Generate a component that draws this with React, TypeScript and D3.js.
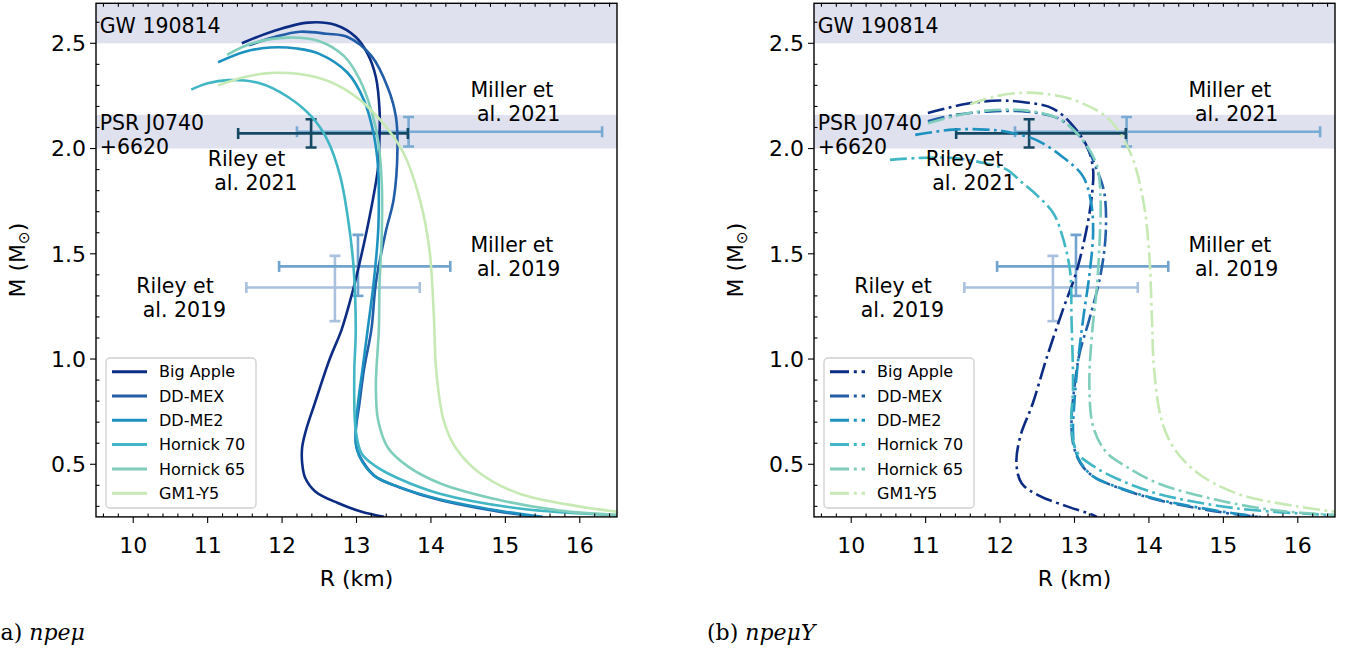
import { useEffect, useRef } from 'react';
import * as d3 from 'd3';

type Pt = [number, number];

// mass-radius curves, [R (km), M (Msun)]
const eosNames = ['Big Apple', 'DD-MEX', 'DD-ME2', 'Hornick 70', 'Hornick 65', 'GM1-Y5'];
const eosColors = ['#0c2c84', '#225ea8', '#1d91c0', '#41b6c4', '#7fcdbb', '#c7e9b4'];

// (a) npe mu
const bigAppleN: Pt[] = [[11.46, 2.5], [11.86, 2.555], [12.35, 2.598], [12.72, 2.587], [12.99, 2.53], [13.15, 2.45], [13.26, 2.34], [13.31, 2.18], [13.31, 2.07], [13.29, 1.91], [13.2, 1.72], [13.07, 1.5], [12.94, 1.31], [12.8, 1.14], [12.64, 1.0], [12.44, 0.79], [12.32, 0.66], [12.27, 0.58], [12.27, 0.506], [12.31, 0.436], [12.45, 0.37], [12.75, 0.316], [13.07, 0.274], [13.37, 0.25]];
const ddmexN: Pt[] = [[11.55, 2.49], [11.9, 2.53], [12.24, 2.555], [12.6, 2.545], [12.88, 2.53], [13.2, 2.44], [13.42, 2.29], [13.53, 2.15], [13.55, 1.99], [13.5, 1.76], [13.39, 1.6], [13.26, 1.36], [13.2, 1.14], [13.1, 0.95], [13.04, 0.79], [12.99, 0.66], [13.0, 0.58], [13.1, 0.505], [13.26, 0.44], [13.58, 0.39], [14.12, 0.33], [14.92, 0.275], [15.46, 0.25]];
const ddme2N: Pt[] = [[11.14, 2.41], [11.5, 2.46], [11.84, 2.48], [12.2, 2.475], [12.5, 2.45], [12.88, 2.36], [13.1, 2.23], [13.23, 2.07], [13.29, 1.91], [13.3, 1.75], [13.29, 1.6], [13.23, 1.36], [13.15, 1.14], [13.08, 0.95], [13.02, 0.79], [12.99, 0.66], [13.0, 0.58], [13.08, 0.51], [13.24, 0.445], [13.55, 0.395], [14.1, 0.335], [14.9, 0.28], [15.5, 0.25]];
const hornick70N: Pt[] = [[10.78, 2.28], [11.0, 2.31], [11.27, 2.325], [11.7, 2.31], [12.08, 2.245], [12.4, 2.15], [12.61, 2.04], [12.78, 1.87], [12.88, 1.68], [12.96, 1.44], [12.99, 1.14], [12.97, 0.93], [12.99, 0.66], [13.07, 0.55], [13.26, 0.49], [13.58, 0.43], [14.12, 0.36], [15.19, 0.29], [16.5, 0.258]];
const hornick65N: Pt[] = [[11.26, 2.445], [11.6, 2.5], [12.08, 2.527], [12.5, 2.51], [12.83, 2.44], [13.04, 2.33], [13.2, 2.18], [13.29, 2.04], [13.34, 1.83], [13.34, 1.6], [13.31, 1.36], [13.3, 1.14], [13.26, 0.87], [13.29, 0.71], [13.42, 0.58], [13.69, 0.49], [14.12, 0.41], [14.92, 0.33], [15.73, 0.28], [16.5, 0.26]];
const gm1y5N: Pt[] = [[11.14, 2.3], [11.5, 2.34], [11.92, 2.36], [12.5, 2.335], [12.94, 2.26], [13.31, 2.14], [13.63, 1.98], [13.85, 1.76], [13.98, 1.52], [14.04, 1.2], [14.07, 0.95], [14.17, 0.71], [14.33, 0.58], [14.65, 0.46], [15.19, 0.36], [15.99, 0.3], [16.5, 0.275]];

// (b) npe mu Y
const bigAppleY: Pt[] = [[11.03, 2.169], [11.59, 2.215], [12.0, 2.228], [12.27, 2.222], [12.71, 2.19], [13.0, 2.1], [13.18, 2.0], [13.25, 1.9], [13.24, 1.8], [13.18, 1.65], [13.03, 1.42], [12.84, 1.23], [12.63, 1.01], [12.44, 0.79], [12.27, 0.63], [12.22, 0.505], [12.29, 0.41], [12.53, 0.35], [12.9, 0.3], [13.2, 0.265], [13.3, 0.25]];
const ddmexY: Pt[] = [[11.03, 2.13], [11.4, 2.16], [11.82, 2.175], [12.36, 2.175], [12.8, 2.14], [13.11, 2.04], [13.3, 1.9], [13.4, 1.79], [13.42, 1.6], [13.35, 1.4], [13.2, 1.19], [13.07, 1.03], [13.0, 0.87], [12.96, 0.71], [12.98, 0.6], [13.08, 0.505], [13.26, 0.44], [13.58, 0.39], [14.12, 0.33], [14.92, 0.275], [15.46, 0.25]];
const ddme2Y: Pt[] = [[10.86, 2.065], [11.37, 2.09], [11.8, 2.09], [12.09, 2.08], [12.49, 2.04], [12.84, 1.96], [13.11, 1.87], [13.22, 1.75], [13.25, 1.6], [13.2, 1.4], [13.12, 1.2], [13.05, 1.0], [13.0, 0.8], [12.98, 0.66], [13.0, 0.58], [13.08, 0.51], [13.24, 0.445], [13.55, 0.395], [14.1, 0.335], [14.9, 0.28], [15.5, 0.25]];
const hornick70Y: Pt[] = [[10.52, 1.946], [10.9, 1.955], [11.37, 1.955], [11.8, 1.93], [12.09, 1.9], [12.29, 1.84], [12.49, 1.78], [12.72, 1.69], [12.84, 1.58], [12.94, 1.42], [12.96, 1.19], [12.98, 0.87], [12.96, 0.66], [13.05, 0.55], [13.26, 0.49], [13.58, 0.43], [14.12, 0.36], [15.19, 0.29], [16.5, 0.258]];
const hornick65Y: Pt[] = [[11.03, 2.12], [11.4, 2.155], [11.82, 2.18], [12.36, 2.18], [12.8, 2.14], [13.11, 2.04], [13.3, 1.92], [13.35, 1.76], [13.34, 1.58], [13.3, 1.34], [13.23, 1.1], [13.2, 0.87], [13.25, 0.68], [13.42, 0.56], [13.69, 0.49], [14.12, 0.41], [14.92, 0.33], [15.73, 0.28], [16.5, 0.26]];
const gm1y5Y: Pt[] = [[11.6, 2.21], [11.9, 2.245], [12.3, 2.265], [12.6, 2.26], [13.0, 2.23], [13.46, 2.14], [13.75, 1.98], [13.92, 1.76], [14.0, 1.52], [14.04, 1.2], [14.07, 0.95], [14.17, 0.71], [14.33, 0.58], [14.65, 0.46], [15.19, 0.36], [15.99, 0.3], [16.5, 0.275]];

const npemuCurves = [bigAppleN, ddmexN, ddme2N, hornick70N, hornick65N, gm1y5N];
const npemuYCurves = [bigAppleY, ddmexY, ddme2Y, hornick70Y, hornick65Y, gm1y5Y];

// NICER measurements (drawn in this order)
const obsR = [12.71, 13.02, 13.7, 12.39];
const obsRlo = [1.19, 1.06, 1.5, 0.98];
const obsRhi = [1.14, 1.24, 2.6, 1.3];
const obsM = [1.34, 1.44, 2.08, 2.072];
const obsMlo = [0.16, 0.14, 0.07, 0.067];
const obsMhi = [0.15, 0.15, 0.07, 0.067];
const obsColors = ['#a9c1de', '#70a3cd', '#78aad2', '#154862'];

// shaded mass bands: GW 190814, PSR J0740+6620
const bandLo = [2.5, 2.0];
const bandHi = [2.75, 2.16];

// annotation text, anchored at (R, M) of the first baseline
const annLines = [['GW 190814'], ['PSR J0740', '+6620'], ['Riley et', ' al. 2021'], ['Miller et', ' al. 2021'], ['Miller et', ' al. 2019'], ['Riley et', ' al. 2019']];
const annR = [9.55, 9.55, 11.0, 14.53, 14.53, 10.04];
const annM = [2.549, 2.088, 1.917, 2.246, 1.509, 1.315];

const xTicks = [10, 11, 12, 13, 14, 15, 16];
const yTicks = [0.5, 1.0, 1.5, 2.0, 2.5];

const W = 1353;
const H = 653;
const TOP = 3.3;
const BOTTOM = 516.9;
const FONT = "'DejaVu Sans', sans-serif";

const panels = [
  { left: 96, right: 617, curves: npemuCurves, dash: null, cap: '(a) ', capMath: 'npeμ', capX: -8 },
  { left: 814, right: 1335, curves: npemuYCurves, dash: '17,4.5,2.8,4.5', cap: '(b) ', capMath: 'npeμY', capX: 707 },
];

const App = () => {
  const svgRef = useRef<SVGSVGElement>(null);

  useEffect(() => {
    const svg = d3.select(svgRef.current);
    svg.selectAll('*').remove();

    panels.forEach((p, pi) => {
      const x = d3.scaleLinear().domain([9.5, 16.5]).range([p.left, p.right]);
      const y = d3.scaleLinear().domain([0.25, 2.69]).range([BOTTOM, TOP]);
      const g = svg.append('g');

      const clipId = `clip-${pi}`;
      svg.append('defs').append('clipPath').attr('id', clipId)
        .append('rect')
        .attr('x', p.left).attr('y', TOP)
        .attr('width', p.right - p.left).attr('height', BOTTOM - TOP);

      const plot = g.append('g').attr('clip-path', `url(#${clipId})`);

      // bands
      bandLo.forEach((lo, k) => {
        plot.append('rect')
          .attr('x', p.left).attr('width', p.right - p.left)
          .attr('y', y(bandHi[k])).attr('height', y(lo) - y(bandHi[k]))
          .attr('fill', '#dfe1ef');
      });

      // error bars
      obsR.forEach((r, k) => {
        const eb = plot.append('g').attr('stroke', obsColors[k]).attr('stroke-width', 2.6).attr('fill', 'none');
        const x0 = x(r - obsRlo[k]);
        const x1 = x(r + obsRhi[k]);
        const y0 = y(obsM[k] - obsMlo[k]);
        const y1 = y(obsM[k] + obsMhi[k]);
        const cy = y(obsM[k]);
        const cx = x(r);
        eb.append('line').attr('x1', x0).attr('x2', x1).attr('y1', cy).attr('y2', cy);
        eb.append('line').attr('x1', cx).attr('x2', cx).attr('y1', y0).attr('y2', y1);
        [x0, x1].forEach(xx => eb.append('line').attr('x1', xx).attr('x2', xx).attr('y1', cy - 5.5).attr('y2', cy + 5.5));
        [y0, y1].forEach(yy => eb.append('line').attr('x1', cx - 5.5).attr('x2', cx + 5.5).attr('y1', yy).attr('y2', yy));
      });

      // curves
      const line = d3.line<Pt>()
        .x(d => x(d[0]))
        .y(d => y(d[1]))
        .curve(d3.curveCatmullRom.alpha(0.5));

      p.curves.forEach((c, k) => {
        plot.append('path')
          .attr('d', line(c))
          .attr('fill', 'none')
          .attr('stroke', eosColors[k])
          .attr('stroke-width', 2.6)
          .attr('stroke-dasharray', p.dash)
          .attr('stroke-linejoin', 'round');
      });

      // annotations
      annLines.forEach((lines, k) => {
        const t = g.append('text')
          .attr('font-family', FONT)
          .attr('font-size', 20.5)
          .attr('fill', '#000')
          .style('white-space', 'pre');
        lines.forEach((ln, j) => {
          t.append('tspan')
            .attr('x', x(annR[k]))
            .attr('y', y(annM[k]) + j * 24)
            .text(ln);
        });
      });

      // legend
      const lx = p.left + 10;
      const leg = g.append('g');
      leg.append('rect')
        .attr('x', lx).attr('y', 358)
        .attr('width', 150).attr('height', 150)
        .attr('rx', 4)
        .attr('fill', 'white').attr('fill-opacity', 0.85)
        .attr('stroke', '#cfcfcf').attr('stroke-width', 1.3);
      eosNames.forEach((name, k) => {
        const ly = 371.7 + k * 24.3;
        leg.append('line')
          .attr('x1', lx + 6).attr('x2', lx + 41)
          .attr('y1', ly).attr('y2', ly)
          .attr('stroke', eosColors[k]).attr('stroke-width', 3)
          .attr('stroke-dasharray', p.dash ? '19,4.8,3,4.8' : null);
        leg.append('text')
          .attr('x', lx + 53).attr('y', ly)
          .attr('dy', '0.36em')
          .attr('font-family', FONT).attr('font-size', 16)
          .text(name);
      });

      // frame
      g.append('rect')
        .attr('x', p.left).attr('y', TOP)
        .attr('width', p.right - p.left).attr('height', BOTTOM - TOP)
        .attr('fill', 'none').attr('stroke', '#000').attr('stroke-width', 1.4);

      const ax = g.append('g').attr('stroke', '#000').attr('stroke-width', 1.1);

      // x ticks
      xTicks.forEach(t => {
        ax.append('line').attr('x1', x(t)).attr('x2', x(t)).attr('y1', BOTTOM).attr('y2', BOTTOM + 6);
      });
      d3.range(48, 83).map(v => v / 5).forEach(t => {
        if (Math.abs(t - Math.round(t)) > 1e-6) {
          ax.append('line').attr('x1', x(t)).attr('x2', x(t)).attr('y1', BOTTOM).attr('y2', BOTTOM - 3.5);
        }
        ax.append('line').attr('x1', x(t)).attr('x2', x(t)).attr('y1', TOP).attr('y2', TOP + 3.5);
      });
      xTicks.forEach(t => {
        g.append('text')
          .attr('x', x(t)).attr('y', 553)
          .attr('text-anchor', 'middle')
          .attr('font-family', FONT).attr('font-size', 22)
          .text(t);
      });

      // y ticks
      yTicks.forEach(t => {
        ax.append('line').attr('x1', p.left - 6).attr('x2', p.left).attr('y1', y(t)).attr('y2', y(t));
        g.append('text')
          .attr('x', p.left - 10).attr('y', y(t))
          .attr('dy', '0.36em')
          .attr('text-anchor', 'end')
          .attr('font-family', FONT).attr('font-size', 22)
          .text(d3.format('.1f')(t));
      });
      d3.range(3, 27).map(v => v / 10).forEach(t => {
        if (Math.abs(t * 2 - Math.round(t * 2)) > 1e-6) {
          ax.append('line').attr('x1', p.left).attr('x2', p.left + 3.5).attr('y1', y(t)).attr('y2', y(t));
        }
      });

      // axis labels
      g.append('text')
        .attr('x', (p.left + p.right) / 2).attr('y', 586)
        .attr('text-anchor', 'middle')
        .attr('font-family', FONT).attr('font-size', 22)
        .text('R (km)');
      const yl = g.append('text')
        .attr('transform', `translate(${p.left - 71},${(TOP + BOTTOM) / 2}) rotate(-90)`)
        .attr('text-anchor', 'middle')
        .attr('font-family', FONT).attr('font-size', 22);
      yl.append('tspan').text('M (M');
      yl.append('tspan').attr('font-size', 15).attr('dy', 4).text('⊙');
      yl.append('tspan').attr('dy', -4).text(')');

      // caption
      const cap = svg.append('text')
        .attr('x', p.capX).attr('y', 640)
        .attr('font-family', "'DejaVu Serif', serif").attr('font-size', 22)
        .style('white-space', 'pre');
      cap.append('tspan').text(p.cap);
      cap.append('tspan').attr('font-style', 'italic').text(p.capMath);
    });
  }, []);

  return (
    <svg
      ref={svgRef}
      width={W}
      height={H}
      viewBox={`0 0 ${W} ${H}`}
      style={{ position: 'absolute', left: 0, top: 0, background: '#fff' }}
    />
  );
};

export default App;
